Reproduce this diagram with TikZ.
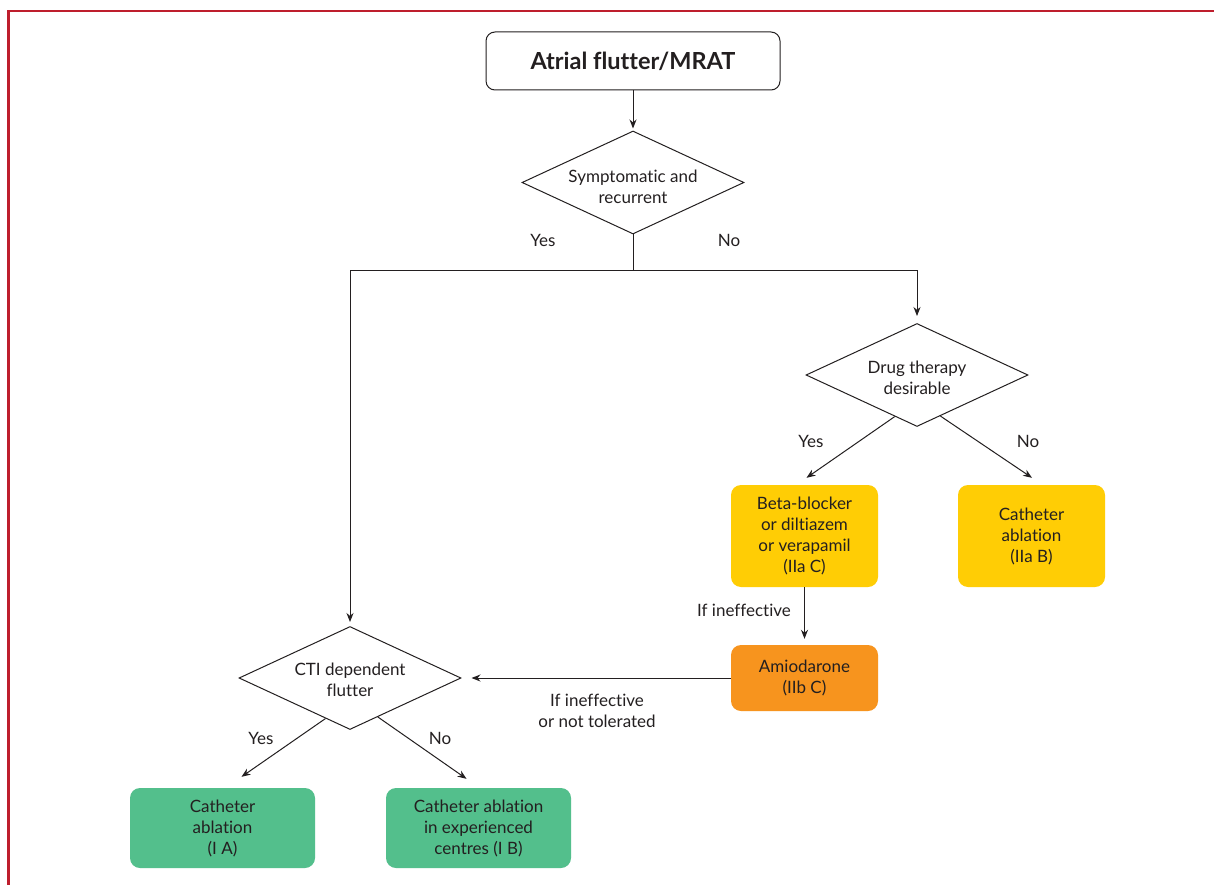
\documentclass[tikz,border=0pt]{standalone}
\usepackage{fontspec}
\setmainfont{Lato}[Ligatures={NoCommon}]
\usetikzlibrary{shapes.geometric,arrows.meta,calc}
\definecolor{bred}{HTML}{BE1E2D}
\definecolor{ink}{HTML}{231F20}
\definecolor{yel}{HTML}{FFCD05}
\definecolor{ora}{HTML}{F7941E}
\definecolor{grn}{HTML}{53BF8C}
\begin{document}
\begin{tikzpicture}[x=1pt,y={(0pt,-1pt)},
  txt/.style={font=\fontsize{17}{21}\selectfont, text=ink},
  box/.style={txt, rectangle, rounded corners=10pt, minimum width=147pt, minimum height=102pt, align=center, inner sep=0pt},
  dec/.style={diamond, draw=ink, line width=1pt, minimum width=222pt, minimum height=103pt, inner sep=0pt},
  dtext/.style={txt, inner sep=0pt, align=center},
  arr/.style={draw=ink, line width=1pt, -{Stealth[length=9pt,width=7pt]}},
  ln/.style={draw=ink, line width=1pt},
  lab/.style={txt, inner sep=0pt, align=center}]
\useasboundingbox (0,0) rectangle (1214,885);
\fill[white] (0,0) rectangle (1214,885);
% frame
\draw[bred, line width=2.6pt] (8.5,885) -- (8.5,11) -- (1214,11);
% nodes
\node[draw=ink, line width=1pt, rounded corners=9pt, minimum width=294pt, minimum height=58pt, inner sep=0pt,
      font=\fontsize{23.5}{26}\selectfont\bfseries, text=ink] (title) at (633,61) {Atrial flutter/MRAT};
\node[dec] (d1) at (633,182.5) {};
\node[dtext] (d1t) at (633,187) {Symptomatic and\\recurrent};
\node[dec] (drug) at (917,375) {};
\node[dtext] (drugt) at (917,378) {Drug therapy\\desirable};
\node[dec] (cti) at (350,678) {};
\node[dtext] (ctit) at (350,680) {CTI dependent\\flutter};
\node[box, fill=yel] (beta) at (804.5,536) {Beta-blocker\\or diltiazem\\or verapamil\\(IIa C)};
\node[box, fill=yel] (cab) at (1031.5,536) {Catheter\\ablation\\(IIa B)};
\node[box, fill=ora, minimum height=66pt] (amio) at (804.5,678) {Amiodarone\\(IIb C)};
\node[box, fill=grn, minimum width=185pt, minimum height=80pt] (g1) at (222.5,828) {Catheter\\ablation\\(I A)};
\node[box, fill=grn, minimum width=185pt, minimum height=80pt] (g2) at (478.5,828) {Catheter ablation\\in experienced\\centres (I B)};
% connectors
\draw[arr] (title.south) -- ($(d1.north)+(0,-2)$);
\coordinate (split) at (633,270);
\draw[ln] (d1.south) -- (split);
\draw[arr] (split) -| ($(cti.north)+(0,-4)$);
\draw[arr] (split) -| ($(drug.north)+(0,-7)$);
\draw[arr] ($(drug.west)!0.8!(drug.south)$) -- ($(beta.north)+(2,-7)$);
\draw[arr] ($(drug.east)!0.79!(drug.south)$) -- ($(cab.north)+(0.5,-7)$);
\draw[arr] (beta.south) -- ($(amio.north)+(0,-6)$);
\draw[arr] (amio.west) -- ($(cti.east)+(10,0)$);
\draw[arr] ($(cti.west)!0.78!(cti.south)$) -- ($(g1.north)+(19,-11)$);
\draw[arr] ($(cti.east)!0.75!(cti.south)$) -- ($(g2.north)+(-12,-9)$);
% labels
\node[lab] (l1) at (543,240) {Yes};
\node[lab] (l2) at (729,240) {No};
\node[lab] (l3) at (811,441) {Yes};
\node[lab] (l4) at (1028,441) {No};
\node[lab] (l5) at (744,610) {If ineffective};
\node[lab] (l6) at (597,711) {If ineffective\\or not tolerated};
\node[lab] (l7) at (261,738) {Yes};
\node[lab] (l8) at (440,738) {No};
\end{tikzpicture}
\end{document}
